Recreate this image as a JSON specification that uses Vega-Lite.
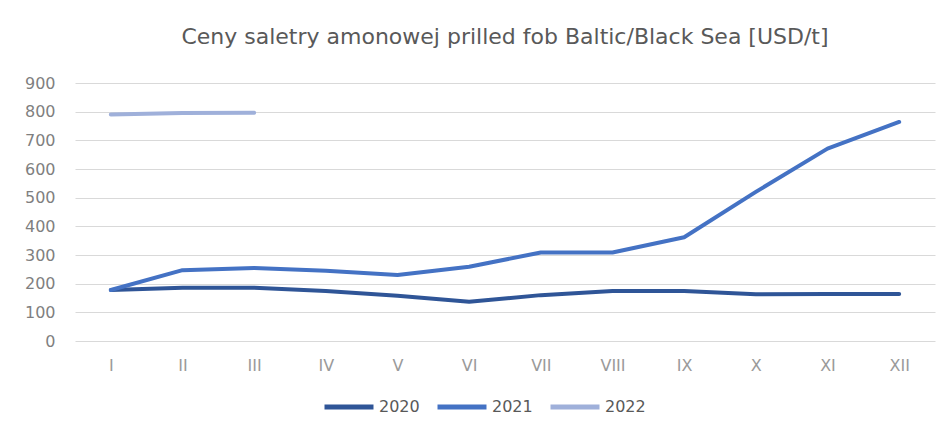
{
  "$schema": "https://vega.github.io/schema/vega-lite/v6.json",
  "width": 860,
  "height": 258,
  "autosize": {"type": "none"},
  "padding": {"left": 75, "top": 83, "right": 12, "bottom": 89},
  "background": "white",
  "config": {
    "view": {"stroke": null},
    "font": "DejaVu Sans"
  },
  "title": {
    "text": "Ceny saletry amonowej prilled fob Baltic/Black Sea [USD/t]",
    "fontSize": 22,
    "fontWeight": "normal",
    "color": "#595959",
    "font": "DejaVu Sans",
    "anchor": "middle",
    "offset": 26
  },
  "data": {
    "values": [
      {"month": "I", "year": "2020", "price": 178},
      {"month": "II", "year": "2020", "price": 186},
      {"month": "III", "year": "2020", "price": 186},
      {"month": "IV", "year": "2020", "price": 174},
      {"month": "V", "year": "2020", "price": 158},
      {"month": "VI", "year": "2020", "price": 137},
      {"month": "VII", "year": "2020", "price": 160},
      {"month": "VIII", "year": "2020", "price": 174},
      {"month": "IX", "year": "2020", "price": 174},
      {"month": "X", "year": "2020", "price": 163},
      {"month": "XI", "year": "2020", "price": 164},
      {"month": "XII", "year": "2020", "price": 164},
      {"month": "I", "year": "2021", "price": 178},
      {"month": "II", "year": "2021", "price": 247},
      {"month": "III", "year": "2021", "price": 255},
      {"month": "IV", "year": "2021", "price": 245},
      {"month": "V", "year": "2021", "price": 230},
      {"month": "VI", "year": "2021", "price": 259},
      {"month": "VII", "year": "2021", "price": 309},
      {"month": "VIII", "year": "2021", "price": 309},
      {"month": "IX", "year": "2021", "price": 362},
      {"month": "X", "year": "2021", "price": 520},
      {"month": "XI", "year": "2021", "price": 671},
      {"month": "XII", "year": "2021", "price": 764},
      {"month": "I", "year": "2022", "price": 790},
      {"month": "II", "year": "2022", "price": 795},
      {"month": "III", "year": "2022", "price": 796}
    ]
  },
  "mark": {"type": "line", "strokeWidth": 4, "strokeCap": "round", "strokeJoin": "round", "interpolate": "linear"},
  "encoding": {
    "x": {
      "field": "month",
      "type": "ordinal",
      "sort": ["I", "II", "III", "IV", "V", "VI", "VII", "VIII", "IX", "X", "XI", "XII"],
      "scale": {"type": "point", "padding": 0.5},
      "axis": {
        "title": null,
        "labelAngle": 0,
        "domain": false,
        "ticks": false,
        "grid": false,
        "labelFontSize": 16,
        "labelColor": "#9a9a9a",
        "labelPadding": 16
      }
    },
    "y": {
      "field": "price",
      "type": "quantitative",
      "scale": {"domain": [0, 900]},
      "axis": {
        "title": null,
        "values": [0, 100, 200, 300, 400, 500, 600, 700, 800, 900],
        "domain": false,
        "ticks": false,
        "grid": true,
        "gridColor": "#d9d9d9",
        "gridWidth": 1.2,
        "labelFontSize": 16,
        "labelColor": "#7f7f7f",
        "labelPadding": 20
      }
    },
    "color": {
      "field": "year",
      "type": "nominal",
      "scale": {"domain": ["2020", "2021", "2022"], "range": ["#2F5597", "#4472C4", "#9FB0DA"]},
      "legend": {
        "title": null,
        "orient": "none",
        "direction": "horizontal",
        "legendX": 247,
        "legendY": 297,
        "symbolType": "stroke",
        "symbolSize": 2400,
        "symbolStrokeWidth": 5,
        "labelFontSize": 16,
        "labelColor": "#595959",
        "labelOffset": 3,
        "columnPadding": 7
      }
    }
  }
}
